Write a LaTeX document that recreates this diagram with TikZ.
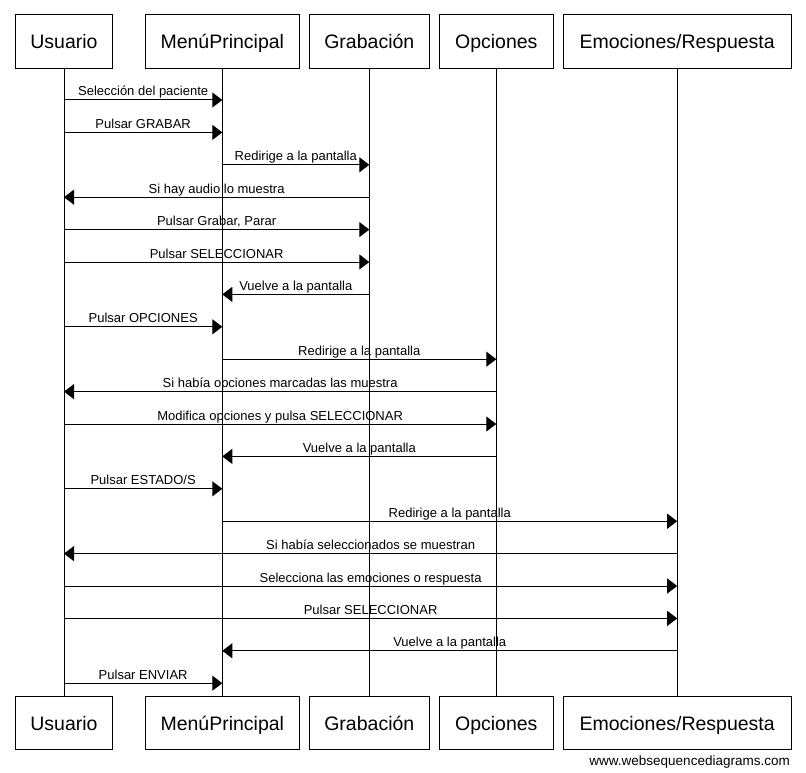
\documentclass[tikz,border=0pt]{standalone}
\usepackage{fontspec}
\setmainfont{Liberation Sans}
\usetikzlibrary{arrows.meta}
\begin{document}
\begin{tikzpicture}[x=1pt,y=-1pt,
  actor/.style={draw,line width=1pt,minimum height=53.5pt,inner sep=0pt,text height=14.5pt,text depth=0pt,font=\fontsize{19.5}{22}\selectfont},
  lifeline/.style={line width=1pt},
  msg/.style={line width=1pt,-{Triangle[length=10pt,width=15pt]}},
  lbl/.style={font=\fontsize{13}{15}\selectfont,anchor=base,yshift=4pt,inner sep=0pt},
  wm/.style={font=\fontsize{13.5}{15}\selectfont,anchor=base east,inner sep=0pt}]
\useasboundingbox[fill=white] (0,0) rectangle (806,773);
% top participants
\node[actor,minimum width=97.4pt] (uT) at (64,41.75) {Usuario};
\node[actor,minimum width=154pt] (mT) at (222.3,41.75) {MenúPrincipal};
\node[actor,minimum width=120pt] (gT) at (369.3,41.75) {Grabación};
\node[actor,minimum width=114pt] (oT) at (496.3,41.75) {Opciones};
\node[actor,minimum width=227.7pt] (eT) at (677.2,41.75) {Emociones/Respuesta};
% bottom participants
\node[actor,minimum width=97.4pt] (uB) at (64,722.85) {Usuario};
\node[actor,minimum width=154pt] (mB) at (222.3,722.85) {MenúPrincipal};
\node[actor,minimum width=120pt] (gB) at (369.3,722.85) {Grabación};
\node[actor,minimum width=114pt] (oB) at (496.3,722.85) {Opciones};
\node[actor,minimum width=227.7pt] (eB) at (677.2,722.85) {Emociones/Respuesta};
% lifelines
\foreach \p in {u,m,g,o,e}{
  \draw[lifeline] (\p T.south) -- (\p B.north);
}
% messages
\foreach \k/\src/\dst/\txt in {
  0/u/m/{Selección del paciente},
  1/u/m/{Pulsar GRABAR},
  2/m/g/{Redirige a la pantalla},
  3/g/u/{Si hay audio lo muestra},
  4/u/g/{Pulsar Grabar, Parar},
  5/u/g/{Pulsar SELECCIONAR},
  6/g/m/{Vuelve a la pantalla},
  7/u/m/{Pulsar OPCIONES},
  8/m/o/{Redirige a la pantalla},
  9/o/u/{Si había opciones marcadas las muestra},
  10/u/o/{Modifica opciones y pulsa SELECCIONAR},
  11/o/m/{Vuelve a la pantalla},
  12/u/m/{Pulsar ESTADO/S},
  13/m/e/{Redirige a la pantalla},
  14/e/u/{Si había seleccionados se muestran},
  15/u/e/{Selecciona las emociones o respuesta},
  16/u/e/{Pulsar SELECCIONAR},
  17/e/m/{Vuelve a la pantalla},
  18/u/m/{Pulsar ENVIAR}}{
  \pgfmathsetmacro\yy{100+32.4*\k}
  \coordinate (s\k) at (\src T.south |- 0,\yy);
  \coordinate (d\k) at (\dst T.south |- 0,\yy);
  \draw[msg] (s\k) -- (d\k) node[lbl,midway] {\txt};
}
\node[wm] (wmark) at (790,765.5) {www.websequencediagrams.com};
\end{tikzpicture}
\end{document}
